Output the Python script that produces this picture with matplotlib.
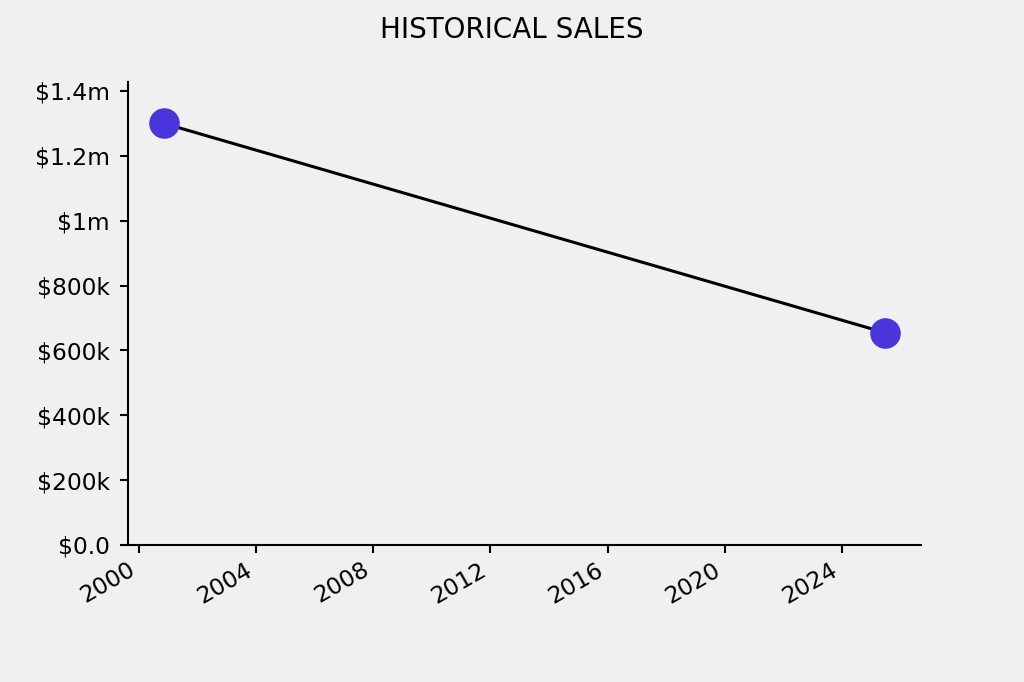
import matplotlib
matplotlib.use("Agg")
import matplotlib.pyplot as plt
import matplotlib.dates as mdates
from matplotlib.ticker import FuncFormatter
from datetime import datetime

dates = [datetime(2000, 11, 7), datetime(2025, 6, 18)]
sales = [1300000, 655000]


def money(v, pos):
    if v >= 1e6:
        return "${:g}m".format(v / 1e6)
    if v > 0:
        return "${:g}k".format(v / 1e3)
    return "$0.0"


fig = plt.figure(figsize=(10.24, 6.82), dpi=100, facecolor="#f0f0f0")
ax = fig.add_axes([0.125, 0.2009, 0.774, 0.679])
ax.set_facecolor("#f0f0f0")

ax.plot(dates, sales, c="k", lw=2.2, zorder=2)
ax.plot(dates, sales, "o", c="#4a35dc", ms=21, zorder=3)

ax.set_ylim(0, 1.428e6)
ax.yaxis.set_major_formatter(FuncFormatter(money))
ax.xaxis.set_major_locator(mdates.YearLocator(4))
ax.xaxis.set_major_formatter(mdates.DateFormatter("%Y"))

for s in ["top", "right"]:
    ax.spines[s].set_visible(False)
for s in ["left", "bottom"]:
    ax.spines[s].set_linewidth(1.5)
ax.tick_params(labelsize=16.8, length=6, width=1.5)
ax.tick_params(axis="y", pad=7)
plt.setp(ax.get_xticklabels(), rotation=30, ha="right")

fig.suptitle("HISTORICAL SALES", fontsize=20, y=0.977)

fig.savefig("out.png", dpi=100, facecolor=fig.get_facecolor())
